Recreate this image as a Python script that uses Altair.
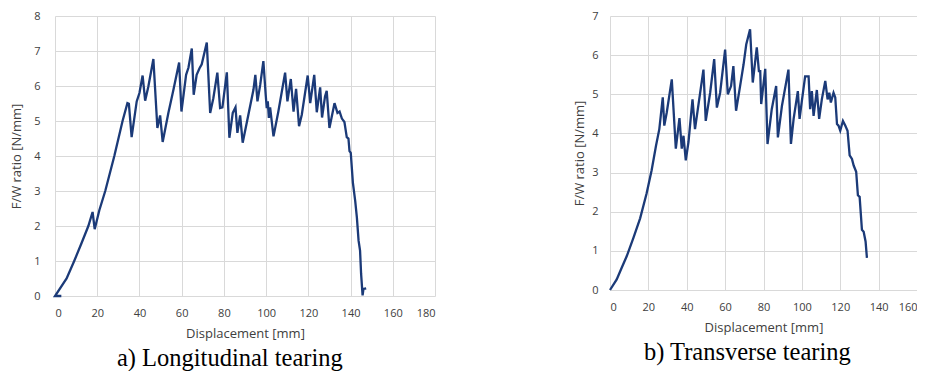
import altair as alt
import pandas as pd

# ---- data ----
disp_a = [3, 0, 5.5, 9.1, 12.5, 15.8, 17.8, 18.8, 21, 23.8,
          28.1, 32, 34.3, 35.0, 36.3, 38.7, 40, 41.5, 42.7, 44.2,
          46.6, 48.5, 49.8, 51.0, 53.7, 56.1, 58.8, 59.9, 62.1, 63.2,
          64.8, 65.7, 67.1, 68.4, 69.5, 71.9, 73.5, 75.0, 76.9, 78.2,
          79.3, 81.4, 82.6, 84.2, 85.5, 86.4, 87.7, 88.9, 91.6, 94.0,
          94.9, 95.9, 97.2, 98.7, 99.8, 100.3, 100.8, 101.3, 101.9, 103.5,
          105.8, 109.0, 110.1, 111.7, 113.0, 114.2, 115.6, 116.9, 119.7, 120.9,
          122.8, 124.0, 125.6, 126.5, 127.9, 128.7, 130.0, 132.4, 133.8, 134.8,
          135.9, 137.1, 138.2, 139.0, 139.5, 140.1, 141.1, 142.2, 143.0, 143.8,
          144.5, 145.0, 145.7, 146.1, 147.4]
ratio_a = [0, 0, 0.5, 1.0, 1.5, 2.0, 2.4, 1.91, 2.45, 3.0,
           4.0, 5.0, 5.51, 5.49, 4.54, 5.56, 5.8, 6.3, 5.58, 5.98,
           6.77, 4.8, 5.16, 4.40, 5.23, 5.89, 6.67, 5.27, 6.32, 6.52,
           7.07, 5.75, 6.32, 6.5, 6.62, 7.24, 5.23, 5.65, 6.38, 5.37,
           5.39, 6.39, 4.52, 5.23, 5.39, 4.66, 5.16, 4.38, 5.18, 5.89,
           6.32, 5.56, 6.03, 6.71, 5.75, 5.37, 5.56, 5.09, 5.39, 4.56,
           5.27, 6.38, 5.56, 6.2, 5.27, 5.92, 4.85, 5.18, 6.3, 5.51,
           6.32, 5.25, 5.96, 5.1, 5.7, 5.86, 4.8, 5.51, 5.23, 5.27,
           5.07, 4.97, 4.54, 4.5, 4.14, 4.09, 3.24, 2.72, 2.24, 1.58,
           1.3, 0.63, 0.02, 0.2, 0.22]

disp_b = [0, 3.5, 6.1, 8.7, 12.2, 15.7, 19.1, 21.7, 24.0, 25.7,
          27.5, 28.3, 29.6, 32.2, 34.3, 36.2, 37.4, 38.3, 39.5, 40.9,
          43.0, 44.3, 48.7, 49.9, 52.2, 54.3, 55.7, 57.4, 60.0, 61.4,
          63.1, 64.3, 65.7, 67.8, 69.6, 71.0, 73.0, 74.4, 76.5, 77.6,
          78.3, 78.8, 80.9, 82.1, 84.3, 86.6, 87.5, 89.6, 93.0, 94.3,
          95.7, 97.9, 98.8, 100.0, 101.7, 103.5, 104.3, 105.2, 106.1, 107.8,
          109.0, 110.4, 112.2, 113.4, 114.3, 115.1, 116.5, 117.4, 118.3, 119.1,
          120.0, 121.4, 122.6, 123.8, 124.9, 126.1, 127.0, 128.3, 129.2, 130.1,
          131.3, 132.2, 133.2, 133.9]
ratio_b = [0, 0.27, 0.57, 0.86, 1.33, 1.83, 2.47, 3.06, 3.69, 4.11,
           4.92, 4.2, 4.54, 5.38, 3.61, 4.39, 3.61, 3.94, 3.31, 3.78,
           4.87, 4.11, 5.63, 4.32, 5.04, 5.9, 4.66, 5.04, 6.14, 5.0,
           5.21, 5.72, 4.58, 5.21, 5.76, 6.27, 6.66, 5.3, 6.2, 5.59,
           5.59, 4.75, 5.65, 3.73, 4.62, 5.21, 3.9, 4.7, 5.63, 3.73,
           4.37, 5.08, 4.37, 4.83, 5.46, 5.46, 4.62, 5.08, 4.45, 5.11,
           4.37, 4.87, 5.34, 4.87, 5.04, 4.79, 5.04, 4.92, 4.24, 4.2,
           4.07, 4.32, 4.2, 4.07, 3.44, 3.35, 3.18, 3.02, 2.42, 2.38,
           1.54, 1.49, 1.24, 0.82]

x_ticks_a = [0, 20, 40, 60, 80, 100, 120, 140, 160, 180]
y_ticks_a = [0, 1, 2, 3, 4, 5, 6, 7, 8]
x_ticks_b = [0, 20, 40, 60, 80, 100, 120, 140, 160]
y_ticks_b = [0, 1, 2, 3, 4, 5, 6, 7]

caption_a = "a) Longitudinal tearing"
caption_b = "b) Transverse tearing"
x_title = "Displacement [mm]"
y_title = "F/W ratio [N/mm]"

LINE = "#1b3a78"
GRID = "#d9d9d9"
TXT = "#404040"


def panel(xs, ys, xticks, yticks, w, h, caption, y_label_pad, y_title_pad, cap_dx):
    df = pd.DataFrame({"d": xs, "r": ys, "i": list(range(len(xs)))})
    return alt.Chart(df).mark_line(color=LINE, strokeWidth=2.3).encode(
        x=alt.X("d:Q",
                scale=alt.Scale(domain=[xticks[0], xticks[-1]], nice=False),
                axis=alt.Axis(values=xticks, title=x_title, labelPadding=11,
                              titlePadding=9)),
        y=alt.Y("r:Q",
                scale=alt.Scale(domain=[yticks[0], yticks[-1]], nice=False),
                axis=alt.Axis(values=yticks, title=y_title, labelPadding=y_label_pad,
                              titlePadding=y_title_pad)),
        order=alt.Order("i:Q"),
    ).properties(
        width=w, height=h,
        title=alt.TitleParams(caption, orient="bottom", anchor="middle", frame="bounds",
                              font="Liberation Serif", fontSize=24.5, fontWeight="normal",
                              color="black", offset=7, dx=cap_dx),
    )


left = panel(disp_a, ratio_a, x_ticks_a, y_ticks_a, 380, 280, caption_a, 15, 10, 7)
right = panel(disp_b, ratio_b, x_ticks_b, y_ticks_b, 307, 274, caption_b, 12, 5, 2)

chart = alt.hconcat(left, right, spacing=138).properties(
    padding={"left": 2, "top": 2, "right": 0, "bottom": 0}, background="white"
).configure_view(
    strokeWidth=0
).configure_axis(
    domain=False, ticks=False, tickSize=0,
    grid=True, gridColor=GRID, gridWidth=1,
    labelFont="Open Sans", labelFontSize=11, labelColor=TXT,
    titleFont="Open Sans", titleFontSize=13, titleFontWeight="normal", titleColor=TXT,
)

chart.save("out.html", embed_options={"renderer": "svg", "actions": False})
